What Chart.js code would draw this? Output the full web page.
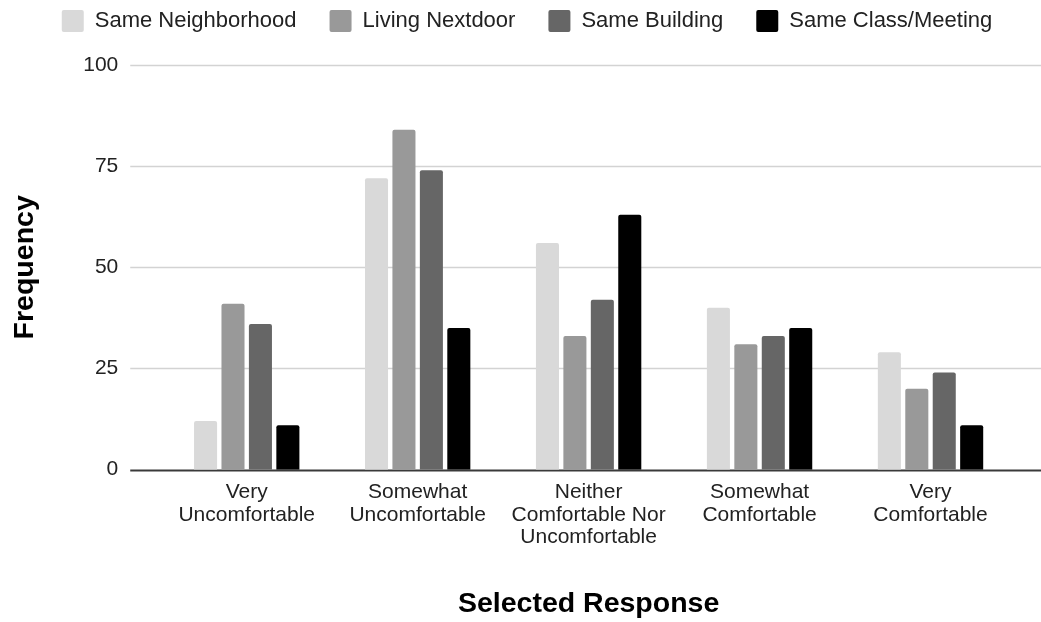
<!DOCTYPE html>
<html>
<head>
<meta charset="utf-8">
<script src="https://cdn.jsdelivr.net/npm/chart.js@4"></script>
<style>
  html, body { margin: 0; padding: 0; background: #fff; }
  #wrap { width: 1041px; height: 622px; }
</style>
</head>
<body>
<div id="wrap"><canvas id="myChart"></canvas></div>
<script>
var categories = [
  ['Very', 'Uncomfortable'],
  ['Somewhat', 'Uncomfortable'],
  ['Neither', 'Comfortable Nor', 'Uncomfortable'],
  ['Somewhat', 'Comfortable'],
  ['Very', 'Comfortable']
];
var sameNeighborhood = [12, 72, 56, 40, 29];
var livingNextdoor = [41, 84, 33, 31, 20];
var sameBuilding = [36, 74, 42, 33, 24];
var sameClassMeeting = [11, 35, 63, 35, 11];
var yTicks = [0, 25, 50, 75, 100];

var FONT = "'Liberation Sans', Arial, sans-serif";

// horizontal gridlines run past the category band, like the original sheet chart
var wideGrid = {
  id: 'wideGrid',
  beforeDatasetsDraw: function(chart) {
    var ctx = chart.ctx;
    var y = chart.scales.y;
    var x0 = chart.chartArea.left - 31;
    var x1 = chart.width;
    ctx.save();
    yTicks.forEach(function(v) {
      var py = Math.round(y.getPixelForValue(v)) + 0.5;
      ctx.beginPath();
      ctx.lineWidth = v === 0 ? 2 : 1.5;
      ctx.strokeStyle = v === 0 ? '#3a3a3a' : '#d3d3d3';
      ctx.moveTo(x0, py);
      ctx.lineTo(x1, py);
      ctx.stroke();
    });
    ctx.restore();
  }
};

// extra room under the legend row
var legendGap = {
  id: 'legendGap',
  beforeLayout: function(chart) {
    var lg = chart.legend;
    if (lg && !lg._gapPatched) {
      var fit = lg.fit;
      lg.fit = function() {
        fit.call(this);
        this.height += 23;
      };
      lg._gapPatched = true;
    }
  }
};

function ds(label, data, color) {
  return {
    label: label,
    data: data,
    backgroundColor: color,
    borderRadius: { topLeft: 2, topRight: 2 },
    borderSkipped: 'bottom',
    categoryPercentage: 0.642,
    barPercentage: 0.84
  };
}

var ctx = document.getElementById('myChart').getContext('2d');
var myChart = new Chart(ctx, {
  type: 'bar',
  data: {
    labels: categories,
    datasets: [
      ds('Same Neighborhood', sameNeighborhood, '#d9d9d9'),
      ds('Living Nextdoor', livingNextdoor, '#999999'),
      ds('Same Building', sameBuilding, '#666666'),
      ds('Same Class/Meeting', sameClassMeeting, '#000000')
    ]
  },
  plugins: [wideGrid, legendGap],
  options: {
    responsive: true,
    maintainAspectRatio: false,
    animation: false,
    layout: { padding: { left: 13, right: 0, top: -23, bottom: 0 } },
    plugins: {
      legend: {
        position: 'top',
        labels: {
          boxWidth: 22,
          boxHeight: 22,
          padding: 33,
          useBorderRadius: true,
          borderRadius: 2,
          color: '#222222',
          font: { family: FONT, size: 22 }
        }
      },
      tooltip: { enabled: false }
    },
    scales: {
      x: {
        grid: { display: false },
        border: { display: false },
        ticks: {
          color: '#222222',
          font: { family: FONT, size: 21, lineHeight: 1.05 },
          maxRotation: 0,
          autoSkip: false,
          padding: 4
        },
        title: {
          display: true,
          text: 'Selected Response',
          color: '#000000',
          font: { family: FONT, size: 28.5, weight: 'bold' },
          padding: { top: 35, bottom: 1 }
        }
      },
      y: {
        min: 0,
        max: 100,
        grid: { display: false },
        border: { display: false },
        afterBuildTicks: function(axis) {
          axis.ticks = yTicks.map(function(v) { return { value: v }; });
        },
        ticks: {
          color: '#222222',
          font: { family: FONT, size: 21 },
          padding: 35
        },
        title: {
          display: true,
          text: 'Frequency',
          color: '#000000',
          font: { family: FONT, size: 28.5, weight: 'bold' },
          padding: { top: -5, bottom: 6 }
        }
      },
      // empty right-hand strip so the category band stops short of the edge
      yRight: {
        position: 'right',
        min: 0,
        max: 100,
        grid: { display: false },
        border: { display: false },
        ticks: { display: false },
        afterFit: function(axis) { axis.width = 25; }
      }
    }
  }
});
</script>
</body>
</html>
